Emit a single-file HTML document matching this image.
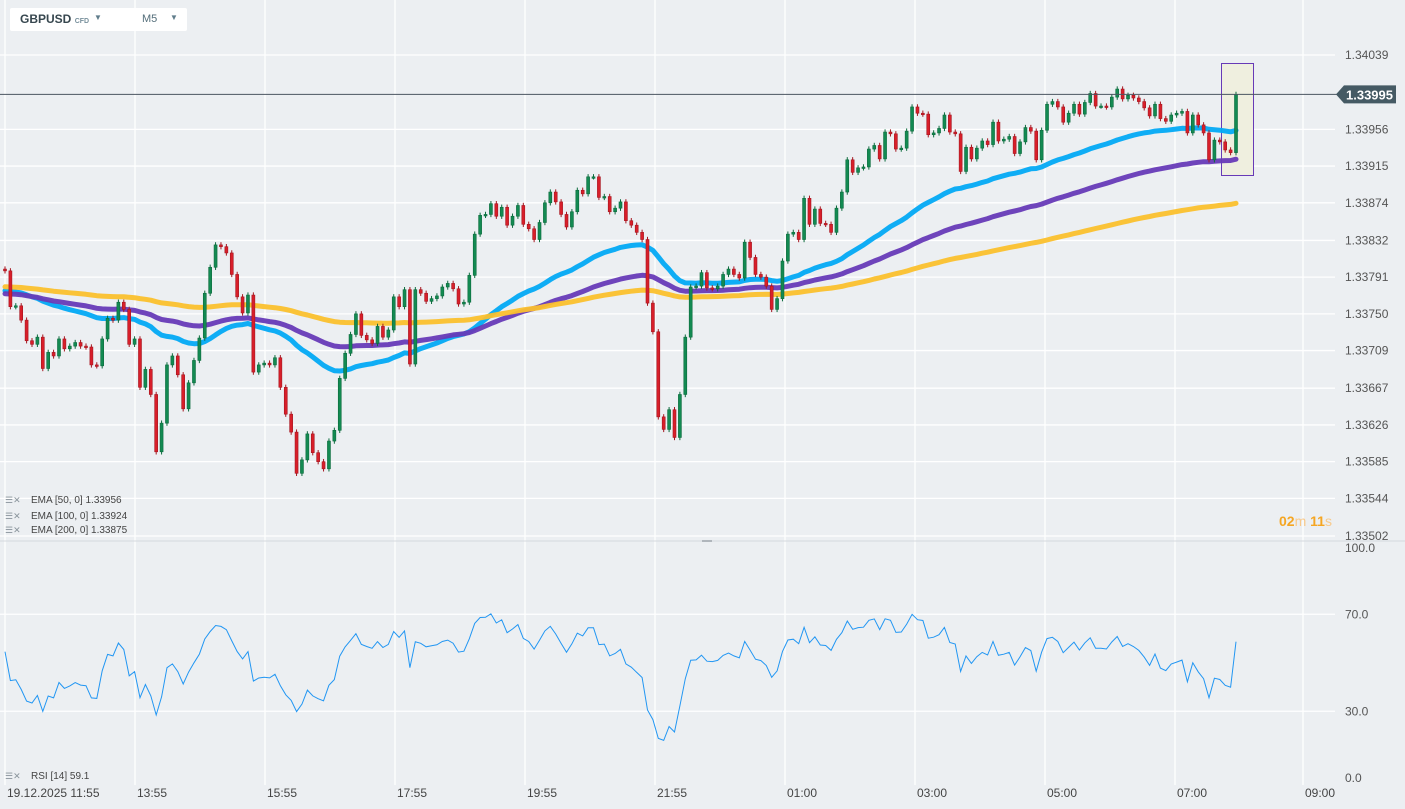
<!DOCTYPE html>
<html><head><meta charset="utf-8">
<style>
html,body{margin:0;padding:0;background:#eceff2;}
body{width:1405px;height:809px;overflow:hidden;position:relative;font-family:"Liberation Sans",sans-serif;}
#hdr{position:absolute;left:10px;top:8px;width:177px;height:23px;background:#fff;border-radius:2px;}
svg{position:absolute;left:0;top:0;}
</style></head>
<body>
<svg id="chart" width="1405" height="809"></svg>
<div id="hdr">
  <span style="position:absolute;left:10px;top:4px;font-size:12px;font-weight:bold;color:#37474f;">GBPUSD <span style="font-size:7px;color:#78909c;font-weight:bold;">CFD</span></span>
  <span style="position:absolute;left:84px;top:5px;font-size:8px;color:#607d8b;">▼</span>
  <span style="position:absolute;left:132px;top:5px;font-size:11px;color:#546e7a;">M5</span>
  <span style="position:absolute;left:160px;top:5px;font-size:8px;color:#607d8b;">▼</span>
</div>
<script>
const closes=[1.33798,1.33758,1.33759,1.33743,1.33720,1.33716,1.33724,1.33689,1.33707,1.33703,
1.33722,1.33711,1.33714,1.33718,1.33714,1.33713,1.33693,1.33692,1.33722,1.33745,
1.33743,1.33763,1.33755,1.33716,1.33722,1.33668,1.33688,1.33660,1.33596,1.33628,
1.33693,1.33703,1.33682,1.33644,1.33673,1.33698,1.33723,1.33773,1.33802,1.33827,
1.33825,1.33818,1.33794,1.33769,1.33751,1.33771,1.33685,1.33693,1.33695,1.33693,
1.33701,1.33668,1.33638,1.33618,1.33572,1.33587,1.33616,1.33595,1.33585,1.33577,
1.33608,1.33620,1.33678,1.33706,1.33727,1.33750,1.33726,1.33721,1.33717,1.33736,
1.33724,1.33732,1.33769,1.33758,1.33777,1.33694,1.33777,1.33773,1.33764,1.33767,
1.33770,1.33780,1.33784,1.33778,1.33761,1.33763,1.33793,1.33839,1.33860,1.33861,
1.33873,1.33859,1.33869,1.33849,1.33859,1.33871,1.33850,1.33845,1.33833,1.33852,
1.33874,1.33886,1.33875,1.33861,1.33847,1.33864,1.33888,1.33884,1.33903,1.33903,
1.33880,1.33881,1.33864,1.33868,1.33875,1.33854,1.33849,1.33841,1.33833,1.33762,
1.33730,1.33635,1.33621,1.33643,1.33612,1.33660,1.33724,1.33780,1.33781,1.33796,
1.33779,1.33778,1.33781,1.33794,1.33800,1.33794,1.33790,1.33830,1.33813,1.33794,
1.33791,1.33781,1.33755,1.33767,1.33809,1.33839,1.33841,1.33833,1.33879,1.33850,
1.33867,1.33851,1.33850,1.33841,1.33868,1.33886,1.33922,1.33908,1.33913,1.33914,
1.33934,1.33938,1.33923,1.33953,1.33951,1.33934,1.33935,1.33954,1.33981,1.33974,
1.33973,1.33950,1.33952,1.33957,1.33972,1.33953,1.33951,1.33909,1.33936,1.33923,
1.33935,1.33943,1.33939,1.33964,1.33943,1.33945,1.33948,1.33929,1.33942,1.33958,
1.33954,1.33922,1.33955,1.33984,1.33987,1.33981,1.33964,1.33974,1.33984,1.33973,
1.33986,1.33996,1.33982,1.33982,1.33981,1.33992,1.34001,1.33990,1.33994,1.33991,
1.33987,1.33980,1.33971,1.33984,1.33968,1.33965,1.33972,1.33974,1.33976,1.33952,
1.33972,1.33961,1.33952,1.33922,1.33944,1.33942,1.33933,1.33930,1.33995];
const firstOpen=1.33800;
const emaPeriods=[50,100,200];
const emaSeeds=[1.33775,1.33772,1.33780];
const emaColors=["#03a9f4","#673ab7","#fbc02d"];
const priceTicks=["1.34039","1.33956","1.33915","1.33874","1.33832","1.33791","1.33750","1.33709","1.33667","1.33626","1.33585","1.33544","1.33502"];
const timeLabels=["19.12.2025 11:55","13:55","15:55","17:55","19:55","21:55","01:00","03:00","05:00","07:00","09:00"];
const rsiTicks=[100,70,30,0];
const rsiTickText=["100.0","70.0","30.0","0.0"];
const rsiGrid=[70,30];

const NS="http://www.w3.org/2000/svg";
const svg=document.getElementById('chart');
function el(tag,attrs,parent){const e=document.createElementNS(NS,tag);for(const k in attrs)e.setAttribute(k,attrs[k]);(parent||svg).appendChild(e);return e;}
const pTop=1.34039,pBot=1.33502,yTop=55,yBot=536;
function py(p){return yTop+(pTop-p)/(pTop-pBot)*(yBot-yTop);}
const x0=5,dx=(1236-5)/228;
function cx(i){return x0+i*dx;}
function ry(v){return 784-v*2.425;}

// grids
for(let k=0;k<11;k++){const x=5+k*130-(k>=10?2:0);const g=el('line',{x1:x,x2:x,y1:0,y2:785,stroke:'#ffffff','stroke-width':1.3});

}
priceTicks.forEach((t,i)=>{const y=py(parseFloat(t));
 const g=el('line',{x1:0,x2:1335,y1:y,y2:y,stroke:'#ffffff','stroke-width':1.3});
 
 
 const tx=el('text',{x:1345,y:Math.min(y+4,540),'font-size':12,fill:'#555'});tx.textContent=t;
 
 });
rsiGrid.forEach(v=>{const g=el('line',{x1:0,x2:1335,y1:ry(v),y2:ry(v),stroke:'#ffffff','stroke-width':1.3});
 
 });
rsiTicks.forEach((v,i)=>{const y=Math.max(552,Math.min(ry(v)+4,782));const tx=el('text',{x:1345,y:y,'font-size':12,fill:'#555'});tx.textContent=rsiTickText[i];
 
 });
const sep=el('line',{x1:0,x2:1405,y1:541,y2:541,stroke:'#d5d9dd','stroke-width':1});


const hnd=el('rect',{x:702,y:540,width:10,height:2,fill:'#b0b6bc'});


timeLabels.forEach((t,k)=>{const tx=el('text',{x:5+k*130+2-(k>=10?2:0),y:797,'font-size':12,fill:'#444'});tx.textContent=t;
 
 });

// highlight box
const hb=el('rect',{x:1221.5,y:63.5,width:32,height:112,fill:'#efefdf',stroke:'#673ab7','stroke-width':1});



// EMAs
emaPeriods.forEach((n,k)=>{const a=2/(n+1);let e=emaSeeds[k];const pts=[];
 closes.forEach((c,i)=>{e=e+a*(c-e);pts.push(cx(i).toFixed(1)+','+py(e).toFixed(1));});
 const pl=el('polyline',{points:pts.join(' '),fill:'none',stroke:emaColors[k],'stroke-width':5,'stroke-linejoin':'round','stroke-linecap':'round','stroke-opacity':0.95});
 
 });

// candles
closes.forEach((c,i)=>{const o=i?closes[i-1]:firstOpen;const up=c>=o;
 const col=up?'#138a52':'#d81f2a',bd=up?'#0b6b3c':'#a5151f';
 const hi=Math.max(o,c)+0.00003,lo=Math.min(o,c)-0.00003;const x=cx(i);
 const w=el('line',{x1:x,x2:x,y1:py(hi),y2:py(lo),stroke:bd,'stroke-width':1});
 
 
 const y1=py(Math.max(o,c)),y2=py(Math.min(o,c));
 const b=el('rect',{x:x-1.5,y:y1,width:3,height:Math.max(1.5,y2-y1),fill:col,stroke:bd,'stroke-width':0.6});
 
 });

// current price line
const last=closes[closes.length-1];const ly=py(last);
const cl=el('line',{x1:0,x2:1340,y1:ly,y2:ly,stroke:'#4a5560','stroke-width':1});


const lb=el('path',{d:`M1336 ${ly} L1344 ${ly-9} L1396 ${ly-9} L1396 ${ly+9} L1344 ${ly+9} Z`,fill:'#455a64'});


const lt=el('text',{x:1346,y:ly+5,'font-size':13,'font-weight':'bold',fill:'#fff'});lt.textContent=last.toFixed(5);



// RSI
let ag=0.00006,al=0.00005;const rp=[];
closes.forEach((c,i)=>{if(i>0){const d=c-closes[i-1];ag=(ag*13+Math.max(d,0))/14;al=(al*13+Math.max(-d,0))/14;}
 const r=al===0?100:100-100/(1+ag/al);rp.push(cx(i).toFixed(1)+','+ry(r).toFixed(1));});
const rl=el('polyline',{points:rp.join(' '),fill:'none',stroke:'#2196f3','stroke-width':1});



// legends
const legends=[["EMA [50, 0] 1.33956",503],["EMA [100, 0] 1.33924",519],["EMA [200, 0] 1.33875",533],["RSI [14] 59.1",779]];
legends.forEach(([t,y])=>{const ic=el('text',{x:5,y:y,'font-size':9,fill:'#8a949c'});ic.textContent='☰✕';
 
 
 const tx=el('text',{x:31,y:y,'font-size':10,fill:'#444'});tx.textContent=t;
 
 });
const tm=el('text',{x:1279,y:526,'font-size':14,fill:'#f5a623'});
tm.innerHTML='<tspan font-weight="bold">02</tspan><tspan fill="#f8c98a">m </tspan><tspan font-weight="bold">11</tspan><tspan fill="#f8c98a">s</tspan>';


</script>
</body></html>
